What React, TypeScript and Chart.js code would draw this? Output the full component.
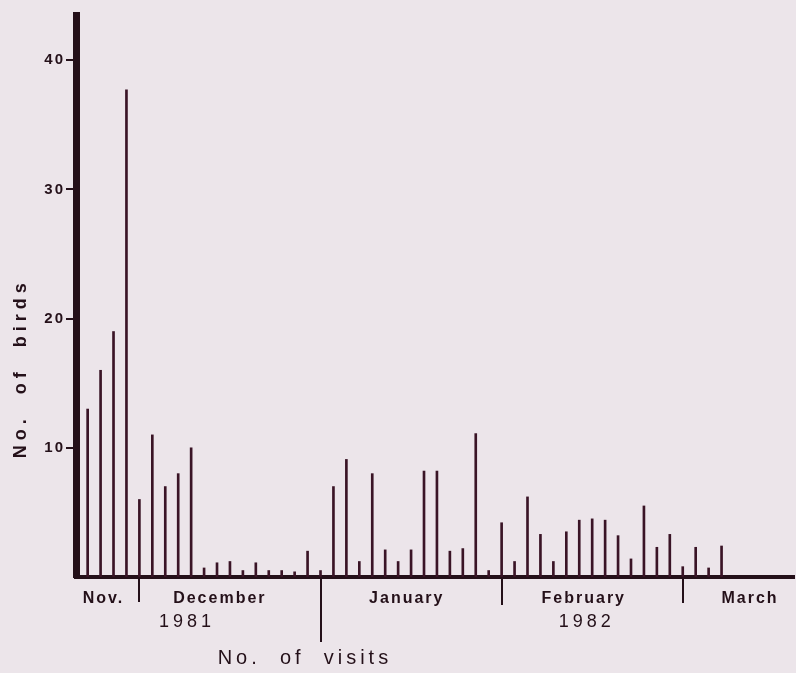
import { useEffect, useRef } from 'react';
import { Chart, registerables } from 'chart.js';

Chart.register(...registerables);

// visit number (1..50) and number of birds seen at each visit
const visitIndex = [
  1, 2, 3, 4, 5, 6, 7, 8, 9, 10,
  11, 12, 13, 14, 15, 16, 17, 18, 19, 20,
  21, 22, 23, 24, 25, 26, 27, 28, 29, 30,
  31, 32, 33, 34, 35, 36, 37, 38, 39, 40,
  41, 42, 43, 44, 45, 46, 47, 48, 49, 50,
];
const birdCounts = [
  13, 16, 19, 37.7, 6, 11, 7, 8, 10, 0.7,
  1.1, 1.2, 0.5, 1.1, 0.5, 0.5, 0.4, 2, 0.5, 7,
  9.1, 1.2, 8, 2.1, 1.2, 2.1, 8.2, 8.2, 2, 2.2,
  11.1, 0.5, 4.2, 1.2, 6.2, 3.3, 1.2, 3.5, 4.4, 4.5,
  4.4, 3.2, 1.4, 5.5, 2.3, 3.3, 0.8, 2.3, 0.7, 2.4,
];
const yTickValues = [10, 20, 30, 40];
const monthLabels = ['Nov.', 'December', 'January', 'February', 'March'];
const monthLabelAt = [2.22, 11.22, 25.67, 39.35, 52.2];
const yearLabels = ['1981', '1982'];
const yearLabelAt = [8.52, 39.43];
const monthBoundaries = [5, 19, 33, 47];
const xTitle = 'No.  of  visits';
const xTitleAt = 17.64;
const yTitle = 'No.  of  birds';
const yTitleAt = 16;

const INK = '#241019';
const BAR = '#3a1426';
const BG = '#ece5ea';
const FONT = '"Liberation Sans", Arial, sans-serif';

export default function App() {
  const ref = useRef<HTMLCanvasElement | null>(null);

  useEffect(() => {
    document.body.style.margin = '0';
    document.body.style.background = BG;
    const canvas = ref.current;
    if (!canvas) return;

    const decor = {
      id: 'decor',
      beforeDraw(chart: any) {
        const ctx = chart.ctx;
        ctx.save();
        ctx.fillStyle = BG;
        ctx.fillRect(0, 0, chart.width, chart.height);
        ctx.restore();
        ctx.letterSpacing = '2px';
      },
      afterDraw(chart: any) {
        const ctx = chart.ctx;
        const xs = chart.scales.x;
        const ys = chart.scales.y;
        const base = chart.chartArea.bottom;
        ctx.save();
        ctx.letterSpacing = '0px';
        ctx.strokeStyle = INK;
        ctx.lineWidth = 2;
        const ends = [602, 642, 605, 603];
        monthBoundaries.forEach((v, i) => {
          const px = Math.round(xs.getPixelForValue(v));
          ctx.beginPath();
          ctx.moveTo(px, base);
          ctx.lineTo(px, ends[i]);
          ctx.stroke();
        });
        ctx.fillStyle = INK;
        ctx.textAlign = 'center';
        ctx.textBaseline = 'middle';
        ctx.letterSpacing = '4px';
        ctx.font = `18px ${FONT}`;
        yearLabels.forEach((t, i) => {
          ctx.fillText(t, xs.getPixelForValue(yearLabelAt[i]) + 2, 622);
        });
        ctx.letterSpacing = '4px';
        ctx.font = `20px ${FONT}`;
        ctx.fillText(xTitle, xs.getPixelForValue(xTitleAt) + 2, 658);
        ctx.translate(21, ys.getPixelForValue(yTitleAt));
        ctx.rotate(-Math.PI / 2);
        ctx.letterSpacing = '5px';
        ctx.font = `bold 18px ${FONT}`;
        ctx.fillText(yTitle, 2, 0);
        ctx.restore();
        ctx.letterSpacing = '0px';
      },
    };

    const chart = new Chart(canvas, {
      type: 'bar',
      data: {
        datasets: [
          {
            data: visitIndex.map((v, i) => ({ x: v, y: birdCounts[i] })),
            backgroundColor: BAR,
            borderWidth: 0,
            barThickness: 2,
          },
        ],
      },
      options: {
        responsive: false,
        animation: false,
        devicePixelRatio: 1,
        layout: { padding: { top: 15, right: 2, left: 0, bottom: 0 } },
        plugins: { legend: { display: false }, tooltip: { enabled: false } },
        scales: {
          x: {
            type: 'linear',
            offset: false,
            min: 0.1,
            max: 55.6,
            grid: { display: false, offset: false },
            border: { display: true, width: 4, color: INK },
            afterBuildTicks: (scale: any) => {
              scale.ticks = monthLabelAt.map((v) => ({ value: v }));
            },
            afterFit: (scale: any) => {
              scale.height = 96;
            },
            ticks: {
              autoSkip: false,
              maxRotation: 0,
              padding: 4,
              color: INK,
              font: { family: FONT, size: 16, weight: 'bold' },
              callback: (_v: any, i: number) => monthLabels[i],
            },
          },
          y: {
            type: 'linear',
            min: 0,
            max: 43.5,
            grid: {
              display: true,
              drawOnChartArea: false,
              drawTicks: true,
              tickLength: 10,
              color: INK,
              lineWidth: 2,
            },
            border: { display: true, width: 7, color: INK },
            afterBuildTicks: (scale: any) => {
              scale.ticks = yTickValues.map((v) => ({ value: v }));
            },
            afterFit: (scale: any) => {
              scale.width = 76;
            },
            ticks: {
              padding: 1,
              color: INK,
              font: { family: FONT, size: 15, weight: 'bold' },
            },
          },
        },
      },
      plugins: [decor],
    } as any);

    return () => chart.destroy();
  }, []);

  return (
    <div style={{ width: 796, height: 673, background: BG }}>
      <canvas ref={ref} width={796} height={673} style={{ display: 'block' }} />
    </div>
  );
}
